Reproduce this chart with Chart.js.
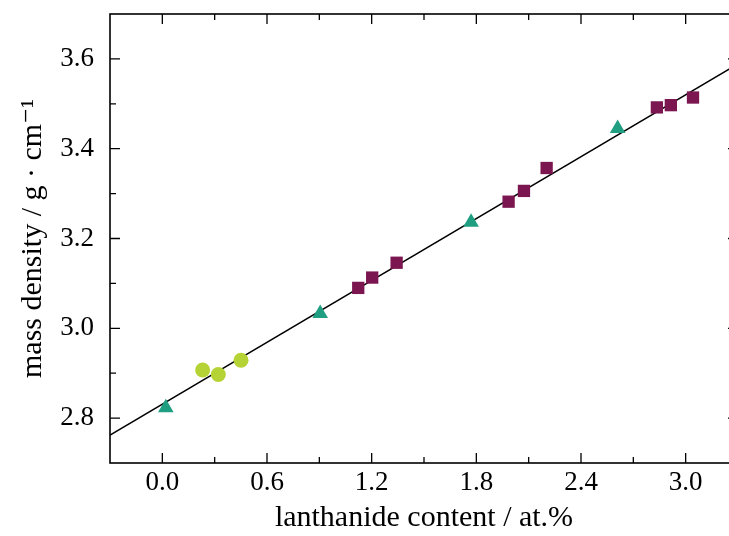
<!DOCTYPE html>
<html>
<head>
<meta charset="utf-8">
<script src="https://cdn.jsdelivr.net/npm/chart.js@4.4.1/dist/chart.umd.min.js"></script>
<style>
  html, body { margin: 0; padding: 0; background: #fff; overflow: hidden; }
  #wrap { width: 729px; height: 536px; overflow: hidden; }
</style>
</head>
<body>
<div id="wrap"><canvas id="densityChart" width="747" height="536"></canvas></div>
<script>
// lanthanide content (at.%) vs. mass density (g/cm3)
const triangleX = [0.02, 0.905, 1.77, 2.61];
const triangleY = [2.823, 3.033, 3.236, 3.445];
const circleX = [0.231, 0.321, 0.451];
const circleY = [2.907, 2.897, 2.929];
const squareX = [1.123, 1.203, 1.343, 1.985, 2.073, 2.203, 2.835, 2.915, 3.042];
const squareY = [3.090, 3.113, 3.146, 3.282, 3.306, 3.357, 3.492, 3.497, 3.514];
const fitX = [-0.3, 3.3];
const fitY = [2.762, 3.589];

const xTicks = [0.0, 0.6, 1.2, 1.8, 2.4, 3.0];
const xMinor = [0.3, 0.9, 1.5, 2.1, 2.7];
const yTicks = [2.8, 3.0, 3.2, 3.4, 3.6];
const yMinor = [2.9, 3.1, 3.3, 3.5];

const toPoints = (xs, ys) => xs.map((x, i) => ({ x: x, y: ys[i] }));
const serif = '"Liberation Serif", "DejaVu Serif", serif';

// box around the plot with inward ticks on all four sides
const frameTicks = {
    id: 'frameTicks',
    afterDatasetsDraw(chart) {
        const ctx = chart.ctx;
        const a = chart.chartArea;
        const xs = chart.scales.x;
        const ys = chart.scales.y;
        ctx.save();
        ctx.strokeStyle = '#000';
        ctx.lineWidth = 1.6;
        ctx.strokeRect(a.left, a.top, a.right - a.left, a.bottom - a.top);
        ctx.lineWidth = 1.3;
        ctx.beginPath();
        const tickX = (v, len) => {
            const px = xs.getPixelForValue(v);
            ctx.moveTo(px, a.bottom); ctx.lineTo(px, a.bottom - len);
            ctx.moveTo(px, a.top); ctx.lineTo(px, a.top + len);
        };
        const tickY = (v, len) => {
            const py = ys.getPixelForValue(v);
            ctx.moveTo(a.left, py); ctx.lineTo(a.left + len, py);
            ctx.moveTo(a.right, py); ctx.lineTo(a.right - len, py);
        };
        xTicks.forEach(v => tickX(v, 10));
        xMinor.forEach(v => tickX(v, 6));
        yTicks.forEach(v => tickY(v, 10));
        yMinor.forEach(v => tickY(v, 6));
        ctx.stroke();
        ctx.restore();
    }
};

new Chart(document.getElementById('densityChart'), {
    type: 'scatter',
    data: {
        datasets: [
            {
                data: toPoints(triangleX, triangleY),
                pointStyle: 'triangle',
                pointRadius: 9,
                backgroundColor: '#1f9e82',
                borderWidth: 0
            },
            {
                data: toPoints(circleX, circleY),
                pointStyle: 'circle',
                pointRadius: 7.5,
                backgroundColor: '#b5d334',
                borderWidth: 0
            },
            {
                data: toPoints(squareX, squareY),
                pointStyle: 'rect',
                pointRadius: 8.7,
                backgroundColor: '#7b1650',
                borderWidth: 0
            },
            {
                data: toPoints(fitX, fitY),
                showLine: true,
                pointRadius: 0,
                borderColor: '#000',
                borderWidth: 1.6,
                fill: false
            }
        ]
    },
    options: {
        responsive: false,
        animation: false,
        events: [],
        layout: { padding: { top: 14, right: 2, left: 0, bottom: 0 } },
        plugins: {
            legend: { display: false },
            tooltip: { enabled: false }
        },
        scales: {
            x: {
                type: 'linear',
                min: -0.3,
                max: 3.3,
                grid: { display: false },
                border: { display: false },
                afterBuildTicks: s => { s.ticks = xTicks.map(v => ({ value: v })); },
                afterFit: s => {
                    s.height = 73;
                    s.paddingLeft = 0;
                    s.paddingRight = 0;
                },
                ticks: {
                    color: '#000',
                    padding: -4,
                    font: { family: serif, size: 27 },
                    callback: v => v.toFixed(1)
                },
                title: {
                    display: true,
                    text: 'lanthanide content / at.%',
                    color: '#000',
                    font: { family: serif, size: 30 },
                    padding: { top: -6, bottom: 0 }
                }
            },
            y: {
                type: 'linear',
                min: 2.7,
                max: 3.7,
                grid: { display: false },
                border: { display: false },
                afterBuildTicks: s => { s.ticks = yTicks.map(v => ({ value: v })); },
                afterFit: s => {
                    s.width = 110;
                    s.paddingTop = 0;
                    s.paddingBottom = 0;
                },
                ticks: {
                    color: '#000',
                    padding: 8,
                    font: { family: serif, size: 27 },
                    callback: v => v.toFixed(1)
                },
                title: {
                    display: true,
                    text: 'mass density / g · cm⁻¹',
                    color: '#000',
                    font: { family: serif, size: 30 },
                    padding: { top: 15, bottom: 0 }
                }
            }
        }
    },
    plugins: [frameTicks]
});
</script>
</body>
</html>
